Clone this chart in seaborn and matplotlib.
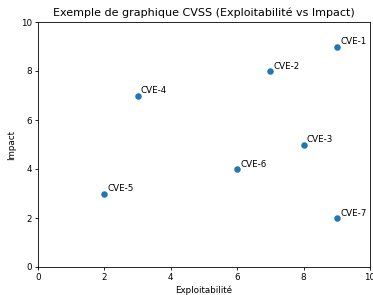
import matplotlib
matplotlib.use("Agg")
import matplotlib.pyplot as plt
import seaborn as sns
import pandas as pd

labels = ["CVE-1", "CVE-2", "CVE-3", "CVE-4", "CVE-5", "CVE-6", "CVE-7"]
exploitabilite = [9, 7, 8, 3, 2, 6, 9]
impact = [9, 8, 5, 7, 3, 4, 2]

df = pd.DataFrame({"Exploitabilité": exploitabilite, "Impact": impact, "CVE": labels})

fig = plt.figure(figsize=(3.73, 2.95), dpi=100)
ax = fig.add_axes([38/373, 1 - 267/295, (370 - 38)/373, (267 - 22)/295])
sns.scatterplot(data=df, x="Exploitabilité", y="Impact", ax=ax, color="#1f77b4",
                s=22, linewidth=0)
for x, y, t in zip(exploitabilite, impact, labels):
    ax.text(x + 0.1, y + 0.1, t, fontsize=6.3)
ax.set_xlim(0, 10)
ax.set_ylim(0, 10)
ax.set_xticks([0, 2, 4, 6, 8, 10])
ax.set_yticks([0, 2, 4, 6, 8, 10])
ax.tick_params(labelsize=6.3, length=2.5, width=0.6, pad=2)
for s in ax.spines.values():
    s.set_linewidth(0.6)
ax.set_xlabel("Exploitabilité", fontsize=6.3, labelpad=2)
ax.set_ylabel("Impact", fontsize=6.3, labelpad=3)
ax.set_title("Exemple de graphique CVSS (Exploitabilité vs Impact)", fontsize=8, pad=4)
fig.savefig("out.png", dpi=100)
